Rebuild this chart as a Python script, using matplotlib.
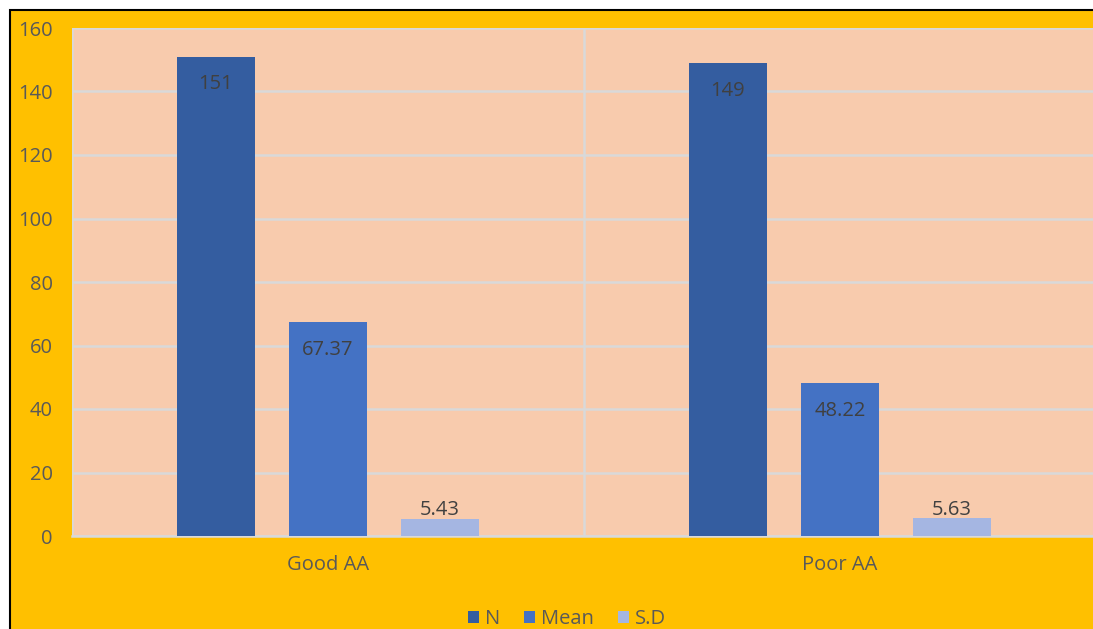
import numpy as np
import matplotlib.pyplot as plt
from matplotlib.patches import Rectangle

categories = ["Good AA", "Poor AA"]
series_names = ["N", "Mean", "S.D"]
n_values = [151, 149]
mean_values = [67.37, 48.22]
sd_values = [5.43, 5.63]
labels_n = ["151", "149"]
labels_mean = ["67.37", "48.22"]
labels_sd = ["5.43", "5.63"]

colors = ["#345DA0", "#4472C4", "#A5B6E2"]
text_color = "#595959"
grid_color = "#D9D9D9"

plt.rcParams["font.family"] = ["Open Sans", "DejaVu Sans"]

fig = plt.figure(figsize=(10.93, 6.29), dpi=100)
fig.patch.set_facecolor("white")

# yellow chart area with black frame
fig.patches.append(Rectangle((10 / 1093, -0.05), 1.1, 1 - 10 / 629 + 0.05,
                             transform=fig.transFigure, facecolor="#FFC000",
                             edgecolor="black", linewidth=1.5, zorder=-1))

ax = fig.add_axes([72 / 1093, 93 / 629, 1024 / 1093, 508 / 629])
ax.set_zorder(2)
ax.set_facecolor("#F8CBAD")

x = np.arange(len(categories))
width = 0.152
offset = 0.219
series = [n_values, mean_values, sd_values]
texts = [labels_n, labels_mean, labels_sd]
fs = 14.5

for i, (vals, labs) in enumerate(zip(series, texts)):
    pos = x + (i - 1) * offset
    ax.bar(pos, vals, width=width, color=colors[i], label=series_names[i], zorder=3)
    for px, v, lab in zip(pos, vals, labs):
        if v > 20:
            ax.annotate(lab, (px, v), xytext=(0, -20), textcoords="offset points",
                        ha="center", va="center", fontsize=fs, color="#404040", zorder=4)
        else:
            ax.annotate(lab, (px, v), xytext=(0, 6), textcoords="offset points",
                        ha="center", va="center", fontsize=fs, color="#404040", zorder=4)

ax.set_xlim(-0.5, 1.5)
ax.set_ylim(0, 160)
ax.set_yticks(range(0, 161, 20))
ax.set_xticks(x)
ax.set_xticklabels(categories)
ax.tick_params(axis="y", length=0, pad=14, labelsize=fs, labelcolor=text_color)
ax.tick_params(axis="x", length=0, pad=14, labelsize=fs, labelcolor=text_color)

ax.grid(axis="y", color=grid_color, linewidth=1.8, zorder=1)
ax.axvline(0.5, color=grid_color, linewidth=1.8, zorder=1)
ax.axvline(-0.5, color=grid_color, linewidth=1.8, zorder=1)

for side in ["top", "right", "left"]:
    ax.spines[side].set_visible(False)
ax.spines["bottom"].set_color(grid_color)
ax.spines["bottom"].set_linewidth(1.8)

fig.legend(loc="center", bbox_to_anchor=(567 / 1093, 1 - 619 / 629), ncol=3,
           frameon=False, fontsize=fs, labelcolor=text_color, handlelength=0.55,
           handleheight=0.55, handletextpad=0.3, columnspacing=1.2)

fig.savefig("out.png", dpi=100)
